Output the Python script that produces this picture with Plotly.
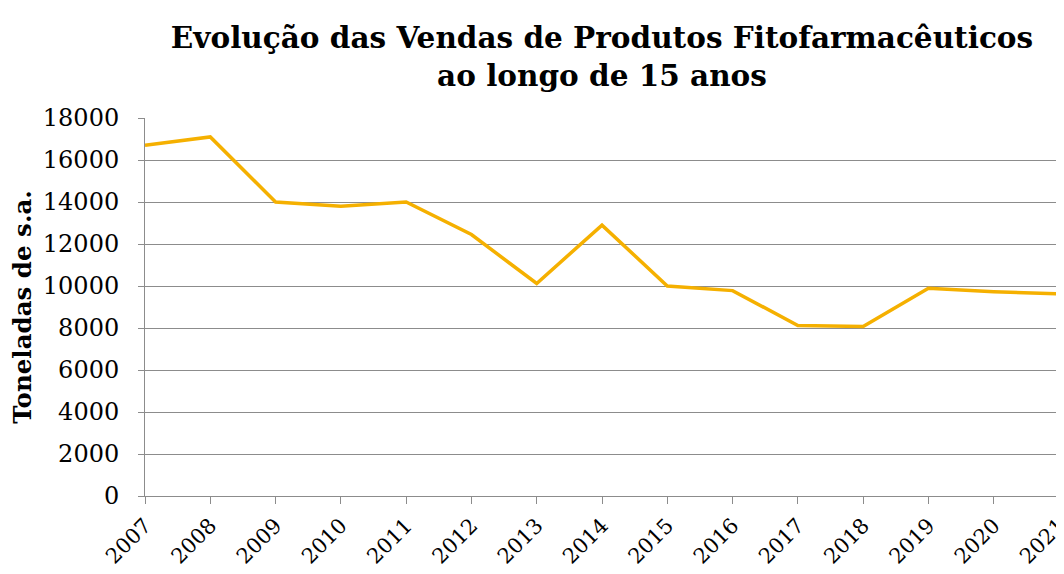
import plotly.graph_objects as go

years = [str(y) for y in range(2007, 2022)]
toneladas = [16700, 17100, 14000, 13800, 14000, 12450, 10120, 12900, 10000,
             9780, 8120, 8070, 9890, 9730, 9620]
y_ticks = list(range(0, 18001, 2000))

SERIF = "DejaVu Serif, Georgia, serif"

fig = go.Figure()
fig.add_trace(go.Scatter(
    x=list(range(len(years))), y=toneladas, mode="lines",
    line=dict(color="#F5B000", width=3.5), cliponaxis=True, showlegend=False,
))

fig.update_layout(
    width=1064, height=574,
    margin=dict(l=137, r=13, t=110, b=86, autoexpand=False),
    paper_bgcolor="white", plot_bgcolor="white",
    title=dict(
        text="Evolução das Vendas de Produtos Fitofarmacêuticos<br>ao longo de 15 anos",
        x=0.5, xref="paper", xanchor="center",
        y=1 - 40 / 574, yref="container", yanchor="middle",
        font=dict(family=SERIF, size=29.5, color="black", weight="bold"),
    ),
    font=dict(family=SERIF, color="black"),
)
fig.update_xaxes(
    tickmode="array", tickvals=list(range(len(years))), ticktext=years,
    range=[0, len(years) - 1], tickangle=-45, automargin=False,
    tickfont=dict(family=SERIF, size=21, color="black"),
    showgrid=False, showline=True, linecolor="#8c8c8c", linewidth=1,
    ticks="outside", ticklen=7, tickcolor="#8c8c8c", ticklabelstandoff=1,
)
fig.update_yaxes(
    range=[0, 18000], tickvals=y_ticks, ticktext=[str(v) for v in y_ticks],
    automargin=False,
    tickfont=dict(family=SERIF, size=24, color="black"),
    showgrid=True, gridcolor="#8c8c8c", gridwidth=1,
    showline=True, linecolor="#8c8c8c", linewidth=1,
    ticks="outside", ticklen=6, tickcolor="#8c8c8c", ticklabelstandoff=14,
    zeroline=False,
    title=dict(text="Toneladas de s.a.", standoff=6,
               font=dict(family=SERIF, size=24.5, color="black", weight="bold")),
)

fig.write_html("out.html")
